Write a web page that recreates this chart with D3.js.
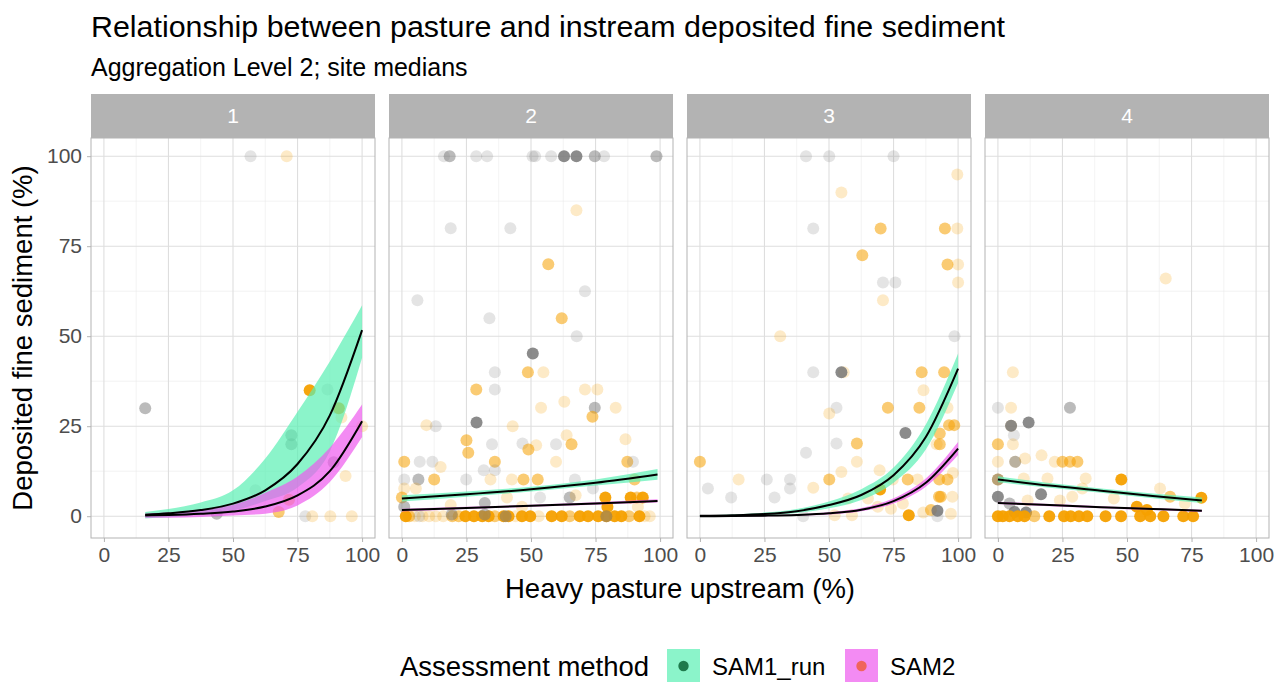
<!DOCTYPE html>
<html>
<head>
<meta charset="utf-8">
<script src="https://cdn.jsdelivr.net/npm/d3@7"></script>
<style>
  body { margin: 0; background: #fff; }
  text { font-family: Arial, "Liberation Sans", sans-serif; }
</style>
</head>
<body>
<svg id="chart" width="1285" height="682"></svg>
<script>
"use strict";

// facet labels, methods, ticks
var panels = ["1", "2", "3", "4"];
var methods = ["SAM1_run", "SAM2"];
var xTicks = [0, 25, 50, 75, 100];
var yTicks = [0, 25, 50, 75, 100];

// points: [pasture %, fine sediment %, method (0 = grey, 1 = orange), alpha level 1..3]
var pts1 = [
  [56.8,100,0,1],[70.8,100,1,1],[16,30,0,2],[79.7,35,1,3],[86.6,35.2,0,1],[90,30,0,1],[91,30,1,3],
  [92,27.4,1,1],[100,25,1,1],[72.6,22.5,0,2],[72.6,20,0,2],[58.7,7.2,0,1],[43.7,0.7,0,2],[71.7,4.6,1,2],
  [67.7,1.2,1,2],[78,0,0,1],[80.7,0,1,1],[87.7,0,1,1],[96,0,1,1],[89,15,0,2],[93.6,11.2,1,1]
];
var pts2 = [
  [16.3,100,0,1],[18.5,100,0,2],[28.8,100,0,1],[33,100,0,1],[50.6,100,0,1],[51.6,100,0,1],[57.8,100,0,1],
  [62.8,100,0,3],[67.6,100,0,3],[74.7,100,0,2],[78.3,100,0,1],[98.6,100,0,2],
  [18.9,80,0,1],[42,80,0,1],[67.6,85,1,1],[56.7,70,1,2],[70.9,62.5,0,1],[6,60,0,1],[33.9,55,0,1],
  [61.9,55,1,2],[67.7,50,0,1],[50.7,45.2,0,3],
  [36,40,0,1],[48.8,40,1,2],[54.8,40,1,1],[28.8,35.2,1,2],[36,35.2,0,1],[70.9,35.2,1,1],[75.7,35.2,1,1],
  [53.9,30.1,1,1],[62.9,31.8,1,1],[82.8,30.1,1,1],[74.7,30.1,0,2],[73.8,27.6,1,2],[28.9,26,0,3],
  [9.5,25.3,1,1],[13.1,25,0,1],[42.9,25,1,1],[25,21.1,1,2],[25.7,17.6,1,2],[34.9,20,0,1],[46.7,20.2,0,1],
  [52,19.7,1,1],[49,18.5,1,2],[63.8,22.5,1,1],[65.7,20,1,2],[59.7,20,0,1],[86.6,21.4,1,1],
  [0.9,15.1,1,2],[6.9,15.1,0,1],[11.8,15.1,0,1],[15,13.7,1,1],[36,15.1,1,2],[59.7,15.1,1,1],[87.3,15.1,1,2],
  [89.5,15.1,0,1],[31.7,12.8,0,1],[36,12.8,0,1],
  [0.9,10.2,0,1],[6.4,10.2,0,2],[12.5,10.2,1,2],[24.9,10.2,0,1],[34.3,10.2,1,1],[42.6,10.2,1,1],
  [47.1,10.2,1,2],[52.6,10.2,1,2],[67,10.2,0,1],[90.1,10.2,1,2],
  [0.9,7.7,1,1],[5.4,7.7,1,1],[74,7.7,0,1],[0,5.2,1,2],[40.7,5.2,1,1],[53.5,5.2,0,1],[65,5.2,0,2],
  [67.3,5.8,1,1],[78.8,5.2,1,3],[88.6,5.2,1,3],[91,5.2,1,2],[93.3,5.2,1,3],[32.1,3.7,0,2],[0.9,2.6,0,2],
  [18.9,3.1,1,1],[46.5,2.6,1,1],[79.6,2.6,1,3],[91.4,2.6,1,1],
  [1.5,0,1,3],[2.8,0,1,2],[5,0,1,1],[8,0,1,1],[10.5,0,1,1],[13.1,0,1,1],[16,0,1,1],[19.5,0,1,2],
  [22,0,1,2],[24.6,0,1,3],[27.9,0,1,3],[31.1,0,1,3],[33.6,0,1,3],[36,0,1,2],[39.4,0,1,3],[41.3,0,1,3],
  [44,0,1,1],[46.5,0,1,3],[49.7,0,1,3],[53,0,1,1],[58,0,1,3],[61.9,0,1,3],[65,0,1,2],[68.9,0,1,3],
  [72.1,0,1,3],[76,0,1,3],[79.2,0,1,3],[82.4,0,1,3],[85,0,1,3],[88,0,1,2],[92,0,1,3],[94,0,1,1],[96,0,1,1],
  [19.3,0.5,0,2],[32.1,0.5,0,2],[40.2,0,0,2],[79.2,0,0,2],[6.7,0,0,1]
];
var pts3 = [
  [41.1,100,0,1],[50.1,100,0,1],[75,100,0,1],[99.7,94.9,1,1],[54.8,89.9,1,1],[43.9,79.9,0,1],[70,79.9,1,2],
  [94.9,79.9,1,2],[99.7,79.9,1,1],[62.9,72.5,1,2],[95.9,69.9,1,2],[100,69.9,1,1],[70.9,64.9,0,1],
  [75.7,64.9,0,1],[100,64.9,1,1],[70.9,60,1,1],[31.1,50,1,1],[98.6,50,0,1],
  [43.9,40,0,1],[55.7,40,1,1],[54.8,40,0,3],[85.9,40,1,2],[94.6,40,1,2],[86.6,35,1,1],[52.9,30.1,0,1],
  [50.1,28.5,1,1],[72.8,30.1,1,2],[85,30.1,1,2],[95.9,30.1,1,1],[79.6,23.1,0,3],[96.5,25.3,1,2],
  [98.5,25.3,1,2],[92.9,23,1,2],[92.9,20,1,2],[91.7,20,1,1],[52.9,20.2,0,1],[60.8,20.2,1,2],
  [41.1,17.6,0,1],[60.8,15.1,1,1],[0,15.1,1,2],[54.8,12.3,1,1],
  [3.1,7.7,0,1],[12.1,5.2,0,1],[15,10.2,1,1],[25.9,10.2,0,1],[28.9,5.2,0,1],[34.9,10.2,0,1],[34.9,7.7,0,1],
  [43.9,7.9,1,1],[50.1,10.2,1,2],[69.8,7.4,1,3],[69.6,12.8,1,1],[74.7,10.2,1,1],[80.5,10.2,1,2],
  [84.3,10.2,1,1],[92.7,10.2,1,2],[95.9,10.2,1,2],[98,12,1,1],[93.3,5.4,1,2],[92.6,5.4,1,2],[97.8,5.4,1,1],
  [65.1,4.9,1,1],[68.9,2.6,1,1],[74,2.1,1,1],[78.6,3.5,1,1],[52.2,0.3,1,1],[58.9,0.3,1,1],[40,0,0,1],
  [80.9,0.3,1,3],[86.5,1,1,1],[89.5,1.7,1,2],[92,1.5,0,3],[97.2,0.7,1,1],[92,0,0,1],[57.4,4.9,1,1]
];
var pts4 = [
  [65,66,1,1],[5.8,40,1,1],[0,30.1,0,1],[5.1,30.1,1,1],[27.9,30.1,0,2],[5.1,25.1,1,1],[5.1,25.1,0,3],
  [11.9,26,0,3],[6.2,22.5,0,1],[0,20,1,2],[5.8,20,1,1],[0,15.1,1,1],[6.7,15.1,1,1],[6.7,15.1,0,2],
  [10.5,16,1,1],[16.9,16.9,1,1],[22,15.1,1,1],[25,15.1,1,2],[27.9,15.1,1,2],[30.8,15.1,1,2],
  [0,10.2,1,2],[0,10.2,0,2],[10,10.5,1,1],[19.2,10.5,1,1],[34,10.5,1,1],[47.8,10.2,1,3],[62.8,7.7,1,1],
  [66.7,5.4,1,2],[78.8,5.1,1,3],[0,5.4,0,3],[4.5,3.5,0,2],[16.7,6.1,0,3],[11.5,4.4,1,1],[28.8,5.4,1,1],
  [24,4.4,1,1],[32.7,7.7,1,1],[44.9,4.9,1,1],[72.4,3.5,1,1],[53.8,2.6,1,3],[57.7,1.7,1,3],
  [6.4,1.2,0,3],[10.9,1,0,3],
  [0,0,1,3],[1.9,0,1,3],[4.5,0,1,3],[7.7,0,1,3],[10.3,0,1,3],[14.1,0,1,2],[19.9,0,1,3],[25.6,0,1,3],
  [28.2,0,1,3],[31.4,0,1,3],[34.6,0,1,3],[41.7,0,1,3],[47.7,0,1,3],[55.1,0,1,3],[59,0,1,3],[64.1,0,1,3],
  [71.8,0,1,3],[75.6,0,1,3]
];

// model fits: [pasture %, fit, lower, upper]
var sam1P1 = [[16,0.4,-0.6,1.2],[25,0.8,-0.3,2],[37.5,1.7,0.5,3.8],[50,3.5,1.6,7.2],[62.5,7.2,4.2,16],
  [75,14.5,8,29],[87.5,28,18,43],[100,51.7,44,58.6]];
var sam2P1 = [[16,0.2,-0.4,0.7],[25,0.35,-0.4,1],[37.5,0.7,-0.2,1.8],[50,1.3,0.2,3.2],[62.5,2.7,0.7,6.5],
  [75,5.8,3,11],[87.5,12.5,9.5,19],[100,26.4,22,31]];
var sam1P2 = [[0,4.9,4.1,5.8],[25,6.1,5.4,6.9],[50,7.5,6.9,8.2],[75,9.3,8.5,10.2],[99,11.6,10.1,13.1]];
var sam2P2 = [[0,1.7,1.3,2.1],[25,2.3,2.0,2.6],[50,2.9,2.6,3.2],[75,3.5,3.2,3.9],[99,4.2,3.8,4.7]];
var sam1P3 = [[0,0.1,-0.1,0.3],[12.5,0.25,0,0.5],[25,0.6,0.3,1],[37.5,1.4,0.9,2],[50,3.1,2.2,4.1],
  [62.5,5.9,4.5,7.5],[75,11.4,9.3,13.5],[87.5,22,18.5,25.5],[100,41,37,45.2]];
var sam2P3 = [[0,0,-0.1,0.1],[12.5,0.05,-0.1,0.2],[25,0.15,0,0.3],[37.5,0.35,0.2,0.5],[50,0.8,0.5,1.1],
  [62.5,1.8,1.4,2.3],[75,4.2,3.5,5],[87.5,9.3,8.2,10.5],[100,18.8,17,20.6]];
var sam1P4 = [[0,10.2,9.4,11.1],[20,8.5,7.9,9.2],[40,7.1,6.5,7.7],[60,5.6,5,6.3],[79,4.4,3.7,5.2]];
var sam2P4 = [[0,3.7,3.4,4.0],[20,3.1,2.8,3.4],[40,2.5,2.2,2.8],[60,2.0,1.7,2.3],[79,1.5,1.2,1.8]];

var facetData = [
  {label: panels[0], pts: pts1, fits: [sam1P1, sam2P1]},
  {label: panels[1], pts: pts2, fits: [sam1P2, sam2P2]},
  {label: panels[2], pts: pts3, fits: [sam1P3, sam2P3]},
  {label: panels[3], pts: pts4, fits: [sam1P4, sam2P4]}
];

var svg = d3.select("#chart");
var panelW = 284, panelGap = 14, left0 = 91;
var stripTop = 94, panelTop = 138, panelBottom = 538;

var x = d3.scaleLinear().domain([-5, 105]).range([0, panelW]);
var y = d3.scaleLinear().domain([-6.05, 105.05]).range([panelBottom, panelTop]);

var pointColor = d3.scaleOrdinal().domain([0, 1]).range(["#777777", "#f5a000"]);
var greyAlpha = d3.scaleOrdinal().domain([1, 2, 3]).range([0.2, 0.5, 0.85]);
var orangeAlpha = d3.scaleOrdinal().domain([1, 2, 3]).range([0.22, 0.55, 0.95]);
var ribbonFill = d3.scaleOrdinal().domain(methods).range(["rgb(90,240,180)", "rgb(238,90,238)"]);
var ribbonAlpha = d3.scaleOrdinal().domain(methods).range([0.7, 0.7]);

// title and subtitle
svg.append("text").attr("x", 91).attr("y", 37)
  .style("font-size", "30.4px").attr("fill", "#000")
  .text("Relationship between pasture and instream deposited fine sediment");
svg.append("text").attr("x", 91).attr("y", 76)
  .style("font-size", "25px").attr("fill", "#000")
  .text("Aggregation Level 2; site medians");

var defs = svg.append("defs");

facetData.forEach(function(f, i) {
  var g = svg.append("g")
    .attr("transform", "translate(" + (left0 + i * (panelW + panelGap)) + ",0)");

  defs.append("clipPath").attr("id", "clip" + i)
    .append("rect").attr("x", 0).attr("y", panelTop).attr("width", panelW).attr("height", panelBottom - panelTop);

  // strip
  g.append("rect").attr("x", 0).attr("y", stripTop).attr("width", panelW).attr("height", panelTop - stripTop)
    .attr("fill", "#b3b3b3");
  g.append("text").attr("x", panelW / 2).attr("y", (stripTop + panelTop) / 2 + 7)
    .attr("text-anchor", "middle").attr("fill", "#fff").style("font-size", "21px")
    .text(f.label);

  // grid
  var minor = [12.5, 37.5, 62.5, 87.5];
  g.selectAll(".gxm").data(minor).enter().append("line")
    .attr("x1", function(d) { return x(d); }).attr("x2", function(d) { return x(d); })
    .attr("y1", panelTop).attr("y2", panelBottom).attr("stroke", "#ebebeb").attr("stroke-width", 0.6);
  g.selectAll(".gym").data(minor).enter().append("line")
    .attr("y1", function(d) { return y(d); }).attr("y2", function(d) { return y(d); })
    .attr("x1", 0).attr("x2", panelW).attr("stroke", "#ebebeb").attr("stroke-width", 0.6);
  g.selectAll(".gx").data(xTicks).enter().append("line")
    .attr("x1", function(d) { return x(d); }).attr("x2", function(d) { return x(d); })
    .attr("y1", panelTop).attr("y2", panelBottom).attr("stroke", "#dedede").attr("stroke-width", 1.1);
  g.selectAll(".gy").data(yTicks).enter().append("line")
    .attr("y1", function(d) { return y(d); }).attr("y2", function(d) { return y(d); })
    .attr("x1", 0).attr("x2", panelW).attr("stroke", "#dedede").attr("stroke-width", 1.1);

  var plot = g.append("g").attr("clip-path", "url(#clip" + i + ")");

  // points
  plot.selectAll("circle").data(f.pts).enter().append("circle")
    .attr("cx", function(d) { return x(d[0]); })
    .attr("cy", function(d) { return y(d[1]); })
    .attr("r", 6)
    .attr("fill", function(d) { return pointColor(d[2]); })
    .attr("fill-opacity", function(d) { return d[2] === 0 ? greyAlpha(d[3]) : orangeAlpha(d[3]); });

  // ribbons
  var area = d3.area()
    .x(function(d) { return x(d[0]); })
    .y0(function(d) { return y(d[2]); })
    .y1(function(d) { return y(d[3]); })
    .curve(d3.curveMonotoneX);
  f.fits.forEach(function(fit, k) {
    plot.append("path").datum(fit)
      .attr("fill", ribbonFill(methods[k]))
      .attr("fill-opacity", ribbonAlpha(methods[k]))
      .attr("d", area);
  });

  // fitted lines
  var line = d3.line()
    .x(function(d) { return x(d[0]); })
    .y(function(d) { return y(d[1]); })
    .curve(d3.curveMonotoneX);
  f.fits.forEach(function(fit) {
    plot.append("path").datum(fit)
      .attr("fill", "none").attr("stroke", "#000").attr("stroke-width", 2)
      .attr("d", line);
  });

  // border
  g.append("rect").attr("x", 0).attr("y", panelTop).attr("width", panelW).attr("height", panelBottom - panelTop)
    .attr("fill", "none").attr("stroke", "#b3b3b3").attr("stroke-width", 1);

  // x axis
  var xAxis = g.append("g").attr("transform", "translate(0," + panelBottom + ")")
    .call(d3.axisBottom(x).tickValues(xTicks).tickSize(4).tickPadding(5));
  xAxis.select(".domain").remove();
  xAxis.selectAll("line").attr("stroke", "#b3b3b3");
  xAxis.selectAll("text").attr("fill", "#4d4d4d").style("font-size", "21px")
    .style("font-family", "Arial, 'Liberation Sans', sans-serif");

  if (i === 0) {
    var yAxis = g.append("g")
      .call(d3.axisLeft(y).tickValues(yTicks).tickSize(4).tickPadding(5));
    yAxis.select(".domain").remove();
    yAxis.selectAll("line").attr("stroke", "#b3b3b3");
    yAxis.selectAll("text").attr("fill", "#4d4d4d").style("font-size", "21px")
      .style("font-family", "Arial, 'Liberation Sans', sans-serif");
  }
});

// axis titles
svg.append("text").attr("x", 680).attr("y", 598).attr("text-anchor", "middle")
  .style("font-size", "27.5px").attr("fill", "#000").text("Heavy pasture upstream (%)");
svg.append("text").attr("transform", "translate(32,338) rotate(-90)").attr("text-anchor", "middle")
  .style("font-size", "27.5px").attr("fill", "#000").text("Deposited fine sediment (%)");

// legend
var legend = svg.append("g");
legend.append("text").attr("x", 400).attr("y", 676).style("font-size", "27.5px").attr("fill", "#000")
  .text("Assessment method");
var keyX = [667, 845];
var keyDot = ["#1f7a4c", "#f0645c"];
methods.forEach(function(m, k) {
  legend.append("rect").attr("x", keyX[k]).attr("y", 649).attr("width", 33).attr("height", 34)
    .attr("fill", ribbonFill(m)).attr("fill-opacity", ribbonAlpha(m));
  legend.append("circle").attr("cx", keyX[k] + 16.5).attr("cy", 666).attr("r", 5.2).attr("fill", keyDot[k]);
  legend.append("text").attr("x", keyX[k] + 45).attr("y", 675).style("font-size", "24px").attr("fill", "#000")
    .text(m);
});
</script>
</body>
</html>
